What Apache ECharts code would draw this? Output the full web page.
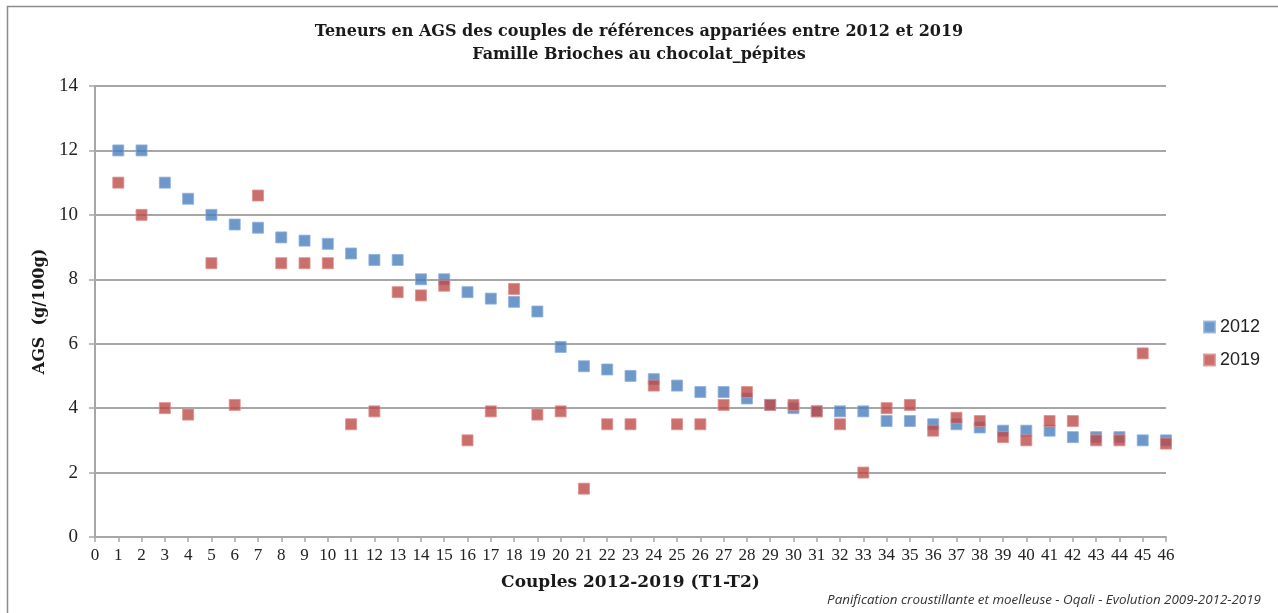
<!DOCTYPE html>
<html>
<head>
<meta charset="utf-8">
<script src="https://cdn.jsdelivr.net/npm/echarts@6/dist/echarts.min.js"></script>
<style>
    html, body { margin: 0; padding: 0; background: #fff; }
    #chart { width: 1278px; height: 613px; }
</style>
</head>
<body>
<div id="chart"></div>
<script>
    // couples 1..46
    var couples = [1, 2, 3, 4, 5, 6, 7, 8, 9, 10, 11, 12, 13, 14, 15, 16, 17, 18, 19, 20, 21, 22, 23,
        24, 25, 26, 27, 28, 29, 30, 31, 32, 33, 34, 35, 36, 37, 38, 39, 40, 41, 42, 43, 44, 45, 46];

    var ags2012 = [12, 12, 11, 10.5, 10, 9.7, 9.6, 9.3, 9.2, 9.1, 8.8, 8.6, 8.6, 8.0, 8.0, 7.6, 7.4, 7.3, 7.0, 5.9,
        5.3, 5.2, 5.0, 4.9, 4.7, 4.5, 4.5, 4.3, 4.1, 4.0, 3.9, 3.9, 3.9, 3.6, 3.6, 3.5, 3.5, 3.4, 3.3, 3.3,
        3.3, 3.1, 3.1, 3.1, 3.0, 3.0];

    var ags2019 = [11, 10, 4.0, 3.8, 8.5, 4.1, 10.6, 8.5, 8.5, 8.5, 3.5, 3.9, 7.6, 7.5, 7.8, 3.0, 3.9, 7.7, 3.8, 3.9,
        1.5, 3.5, 3.5, 4.7, 3.5, 3.5, 4.1, 4.5, 4.1, 4.1, 3.9, 3.5, 2.0, 4.0, 4.1, 3.3, 3.7, 3.6, 3.1, 3.0,
        3.6, 3.6, 3.0, 3.0, 5.7, 2.9];

    var seriesNames = ['2012', '2019'];

    function pairs(values) {
        var out = [];
        for (var i = 0; i < couples.length; i++) {
            out.push([couples[i], values[i]]);
        }
        return out;
    }

    var serif = '"Liberation Serif", serif';
    var boldSerif = '"DejaVu Serif", serif';
    var gridColor = '#a6a6a6';

    var chart = echarts.init(document.getElementById('chart'));

    var option = {
        animation: false,
        backgroundColor: '#fff',
        title: [{
            text: 'Teneurs en AGS des couples de références appariées entre 2012 et 2019\nFamille Brioches au chocolat_pépites',
            left: 'center',
            top: 15,
            textStyle: {
                fontFamily: boldSerif,
                fontWeight: 'bold',
                fontSize: 16,
                lineHeight: 23,
                color: '#1a1a1a'
            }
        }, {
            text: 'Panification croustillante et moelleuse - Oqali - Evolution 2009-2012-2019',
            right: 12,
            top: 589,
            textStyle: {
                fontFamily: '"Open Sans", sans-serif',
                fontStyle: 'italic',
                fontWeight: 'normal',
                fontSize: 13.4,
                color: '#333'
            }
        }],
        legend: {
            orient: 'vertical',
            left: 1198,
            top: 313,
            itemWidth: 11,
            itemHeight: 11,
            itemGap: 15,
            icon: 'rect',
            data: seriesNames,
            textStyle: {
                fontFamily: '"Liberation Sans", sans-serif',
                fontSize: 18,
                color: '#222'
            }
        },
        grid: {
            left: 95,
            right: 112,
            top: 86,
            bottom: 76
        },
        xAxis: {
            type: 'value',
            min: 0,
            max: 46,
            interval: 1,
            name: 'Couples 2012-2019 (T1-T2)',
            nameLocation: 'middle',
            nameGap: 37,
            nameTextStyle: {
                fontFamily: boldSerif,
                fontWeight: 'bold',
                fontSize: 17,
                color: '#1a1a1a'
            },
            axisLine: { lineStyle: { color: gridColor, width: 2 } },
            axisTick: { show: true, length: 5, lineStyle: { color: gridColor, width: 1.5 } },
            axisLabel: {
                margin: 10,
                fontFamily: serif,
                fontSize: 17,
                color: '#222'
            },
            splitLine: { show: false }
        },
        yAxis: {
            type: 'value',
            min: 0,
            max: 14,
            interval: 2,
            name: 'AGS  (g/100g)',
            nameLocation: 'middle',
            nameGap: 46,
            nameTextStyle: {
                fontFamily: boldSerif,
                fontWeight: 'bold',
                fontSize: 16,
                color: '#1a1a1a'
            },
            axisLine: { show: true, lineStyle: { color: gridColor, width: 2 } },
            axisTick: { show: true, length: 6, lineStyle: { color: gridColor, width: 1.5 } },
            axisLabel: {
                margin: 17,
                fontFamily: serif,
                fontSize: 19,
                color: '#222'
            },
            splitLine: { show: true, lineStyle: { color: gridColor, width: 2 } }
        },
        graphic: [{
            type: 'rect',
            left: 5,
            top: 4,
            shape: { width: 1290, height: 640 },
            style: { fill: 'none', stroke: '#8c8c8c', lineWidth: 1.5 },
            silent: true,
            z: -1
        }],
        series: [{
            name: seriesNames[0],
            type: 'scatter',
            symbol: 'rect',
            symbolSize: 11,
            itemStyle: { color: '#4a7ebb', borderColor: '#8fb0dd', borderWidth: 1 },
            data: pairs(ags2012)
        }, {
            name: seriesNames[1],
            type: 'scatter',
            symbol: 'rect',
            symbolSize: 11,
            itemStyle: { color: '#be4b48', borderColor: '#dc8f8d', borderWidth: 1 },
            data: pairs(ags2019)
        }]
    };

    chart.setOption(option);
</script>
</body>
</html>
